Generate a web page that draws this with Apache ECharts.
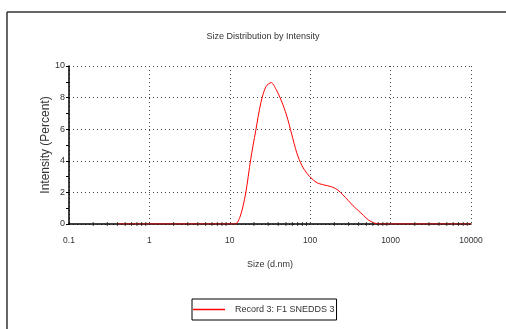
<!DOCTYPE html>
<html>
<head>
<meta charset="utf-8">
<script src="https://cdn.jsdelivr.net/npm/echarts@6/dist/echarts.min.js"></script>
<style>
  html, body { margin: 0; padding: 0; background: #fff; }
  #main { width: 506px; height: 329px; }
</style>
</head>
<body>
<div id="main"></div>
<script>
// size (d.nm) and intensity (%)
const sizes = [0.4, 1, 5, 10, 11.7, 13.5, 15.7, 18.2, 21.0, 24.4, 28.2, 32.7, 37.8, 43.8, 50.7, 58.8, 68.1, 78.8, 91.3,
  105.7, 122.4, 141.8, 164.2, 190.1, 220.2, 255.0, 295.3, 342.0, 396.1, 458.7, 531.2, 615.1, 712.4, 1000, 5000, 10000]
const intensity = [0, 0, 0, 0, 0, 0.5, 1.9, 4.1, 5.9, 7.7, 8.7, 8.95, 8.5, 7.8, 6.9, 5.7, 4.5, 3.7, 3.2,
  2.85, 2.6, 2.5, 2.42, 2.33, 2.15, 1.85, 1.5, 1.15, 0.85, 0.55, 0.25, 0.08, 0, 0, 0, 0]
// log-axis minor tick positions (2..9 per decade)
const minorTicks = []
for (const d of [0.1, 1, 10, 100, 1000]) {
  for (let k = 2; k <= 9; k++) minorTicks.push(+(d * k).toPrecision(3))
}

const font = "'Liberation Sans', Arial, sans-serif"

const chart = echarts.init(document.getElementById('main'), null, { renderer: 'canvas' })

chart.setOption({
  animation: false,
  backgroundColor: '#fff',
  title: {
    text: 'Size Distribution by Intensity',
    left: 258,
    top: 27,
    textAlign: 'center',
    textStyle: { fontFamily: font, fontSize: 9, fontWeight: 'normal', color: '#333' }
  },
  graphic: [
    { type: 'line', shape: { x1: 7, y1: 12, x2: 506, y2: 12 }, style: { stroke: '#666', lineWidth: 2 } },
    { type: 'line', shape: { x1: 7, y1: 12, x2: 7, y2: 329 }, style: { stroke: '#333', lineWidth: 1.5 } }
  ],
  legend: {
    data: ['Record 3: F1 SNEDDS 3'],
    left: 192,
    top: 299,
    icon: 'rect',
    itemWidth: 32,
    itemHeight: 1.5,
    padding: [6, 2, 6, 1],
    borderColor: '#000',
    borderWidth: 1,
    borderRadius: 0,
    textStyle: { fontFamily: font, fontSize: 9, color: '#333', padding: [0, 0, 0, 5] }
  },
  grid: { left: 69, right: 35, top: 66, bottom: 105 },
  xAxis: {
    type: 'log',
    logBase: 10,
    min: 0.1,
    max: 10000,
    name: 'Size (d.nm)',
    nameLocation: 'middle',
    nameGap: 36,
    nameMoveOverlap: false,
    nameTextStyle: { fontFamily: font, fontSize: 9, color: '#333' },
    axisLine: { lineStyle: { color: '#000', width: 1.5 } },
    axisTick: { show: false },
    axisLabel: {
      margin: 12, fontFamily: font, fontSize: 8.5, color: '#333',
      formatter: v => String(+v.toPrecision(6))
    },
    splitLine: { show: true, lineStyle: { color: '#444', type: [1, 3], width: 1 } }
  },
  yAxis: {
    type: 'value',
    min: 0,
    max: 10,
    interval: 2,
    name: 'Intensity (Percent)',
    nameLocation: 'middle',
    nameGap: 17,
    nameMoveOverlap: false,
    nameTextStyle: { fontFamily: font, fontSize: 12, color: '#333' },
    axisLine: { show: true, lineStyle: { color: '#000', width: 1.5 } },
    axisTick: { show: true, length: 3, lineStyle: { color: '#000' } },
    minorTick: { show: true, splitNumber: 2, length: 3, lineStyle: { color: '#000' } },
    axisLabel: { margin: 4, fontFamily: font, fontSize: 9, color: '#333' },
    splitLine: { show: true, lineStyle: { color: '#444', type: [1, 3], width: 1 } }
  },
  series: [
    {
      name: 'Record 3: F1 SNEDDS 3',
      type: 'line',
      data: sizes.map((s, i) => [s, intensity[i]]),
      smooth: 0.3,
      showSymbol: false,
      color: '#ff0000',
      lineStyle: { color: '#ff0000', width: 1 },
      z: 3
    },
    {
      name: 'minor',
      type: 'scatter',
      data: minorTicks.map(v => [v, 0]),
      symbol: 'rect',
      symbolSize: [1, 4],
      itemStyle: { color: '#222' },
      silent: true,
      z: 4
    }
  ]
})
</script>
</body>
</html>
